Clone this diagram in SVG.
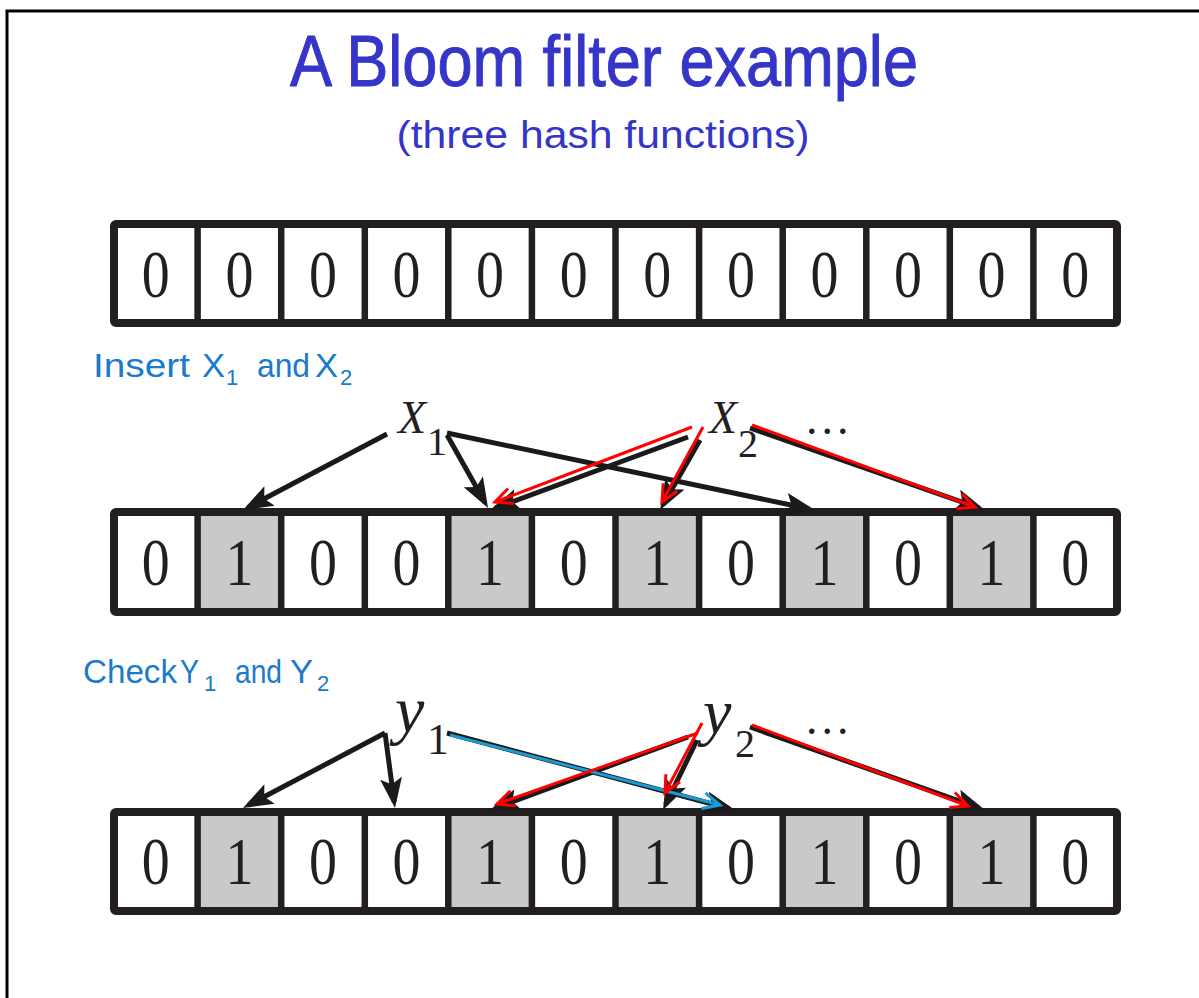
<svg xmlns="http://www.w3.org/2000/svg" width="1199" height="998" viewBox="0 0 1199 998">
<style>
.title{font-family:"Liberation Sans",Arial,sans-serif;fill:#3535c8}
.lbl{font-family:"Liberation Sans",Arial,sans-serif;fill:#1a7acc;font-size:34px}
.sub{font-family:"Liberation Sans",Arial,sans-serif;fill:#1a7acc;font-size:22px}
.dig{font-family:"Liberation Serif","Times New Roman",serif;font-size:68px;fill:#231f20;text-anchor:middle}
.math{font-family:"Liberation Serif","Times New Roman",serif;fill:#231f20}
.w{fill:#ffffff}
.g{fill:#c8c9cb}
.frame{fill:none;stroke:#231f20;stroke-width:8;stroke-linejoin:round}
.div{stroke:#231f20;stroke-width:6.5}
.bk{stroke:#1a1a1a;stroke-width:5;fill:none;marker-end:url(#hk)}
.rd{stroke:#ff0000;stroke-width:3;fill:none;marker-end:url(#hr)}
.bl{stroke:#1c9ad6;stroke-width:3;fill:none;marker-end:url(#hb)}
</style>
<defs>
<marker id="hk" markerUnits="userSpaceOnUse" markerWidth="32" markerHeight="24" viewBox="0 0 32 24" refX="24" refY="12" orient="auto" overflow="visible"><path d="M0,1 L30,12 L0,23 L6,12 z" fill="#1a1a1a"/></marker>
<marker id="hr" markerUnits="userSpaceOnUse" markerWidth="24" markerHeight="24" viewBox="0 0 24 24" refX="19" refY="12" orient="auto" overflow="visible"><path d="M2,4 L19,12 L2,20" fill="none" stroke="#ff0000" stroke-width="3"/></marker>
<marker id="hb" markerUnits="userSpaceOnUse" markerWidth="24" markerHeight="24" viewBox="0 0 24 24" refX="19" refY="12" orient="auto" overflow="visible"><path d="M2,4 L19,12 L2,20" fill="none" stroke="#1c9ad6" stroke-width="3"/></marker>
</defs>
<rect x="0" y="0" width="1199" height="998" fill="#ffffff"/>
<path d="M7,998 V11 H1199" fill="none" stroke="#000" stroke-width="3"/>

<g id="title">
<text class="title" x="604" y="86" font-size="72" text-anchor="middle" textLength="628" lengthAdjust="spacingAndGlyphs" stroke="#3535c8" stroke-width="1">A Bloom filter example</text>
<text class="title" x="603" y="148" font-size="38" text-anchor="middle" textLength="413" lengthAdjust="spacingAndGlyphs">(three hash functions)</text>
</g>

<!-- Row 1 -->
<g id="row1">
<g id="r1c0"><rect class="w" x="114" y="224" width="83.6" height="99"/><text class="dig" x="155.8" y="297" textLength="28" lengthAdjust="spacingAndGlyphs">0</text></g>
<g id="r1c1"><rect class="w" x="197.6" y="224" width="83.6" height="99"/><text class="dig" x="239.4" y="297" textLength="28" lengthAdjust="spacingAndGlyphs">0</text></g>
<g id="r1c2"><rect class="w" x="281.2" y="224" width="83.6" height="99"/><text class="dig" x="323" y="297" textLength="28" lengthAdjust="spacingAndGlyphs">0</text></g>
<g id="r1c3"><rect class="w" x="364.8" y="224" width="83.6" height="99"/><text class="dig" x="406.5" y="297" textLength="28" lengthAdjust="spacingAndGlyphs">0</text></g>
<g id="r1c4"><rect class="w" x="448.3" y="224" width="83.6" height="99"/><text class="dig" x="490.1" y="297" textLength="28" lengthAdjust="spacingAndGlyphs">0</text></g>
<g id="r1c5"><rect class="w" x="531.9" y="224" width="83.6" height="99"/><text class="dig" x="573.7" y="297" textLength="28" lengthAdjust="spacingAndGlyphs">0</text></g>
<g id="r1c6"><rect class="w" x="615.5" y="224" width="83.6" height="99"/><text class="dig" x="657.3" y="297" textLength="28" lengthAdjust="spacingAndGlyphs">0</text></g>
<g id="r1c7"><rect class="w" x="699.1" y="224" width="83.6" height="99"/><text class="dig" x="740.9" y="297" textLength="28" lengthAdjust="spacingAndGlyphs">0</text></g>
<g id="r1c8"><rect class="w" x="782.7" y="224" width="83.6" height="99"/><text class="dig" x="824.5" y="297" textLength="28" lengthAdjust="spacingAndGlyphs">0</text></g>
<g id="r1c9"><rect class="w" x="866.3" y="224" width="83.6" height="99"/><text class="dig" x="908" y="297" textLength="28" lengthAdjust="spacingAndGlyphs">0</text></g>
<g id="r1c10"><rect class="w" x="949.8" y="224" width="83.6" height="99"/><text class="dig" x="991.6" y="297" textLength="28" lengthAdjust="spacingAndGlyphs">0</text></g>
<g id="r1c11"><rect class="w" x="1033.4" y="224" width="83.6" height="99"/><text class="dig" x="1075.2" y="297" textLength="28" lengthAdjust="spacingAndGlyphs">0</text></g>
<rect class="frame" x="114" y="224" width="1003" height="99" rx="2"/>
<path class="div" d="M197.6,224V323M281.2,224V323M364.8,224V323M448.3,224V323M531.9,224V323M615.5,224V323M699.1,224V323M782.7,224V323M866.3,224V323M949.8,224V323M1033.4,224V323"/>
</g>

<g id="insertLabel">
<text class="lbl" x="93" y="377" textLength="97" lengthAdjust="spacingAndGlyphs">Insert</text>
<text class="lbl" x="202" y="377" textLength="23" lengthAdjust="spacingAndGlyphs">X</text>
<text class="sub" x="226" y="385">1</text>
<text class="lbl" x="257" y="377" textLength="53" lengthAdjust="spacingAndGlyphs">and</text>
<text class="lbl" x="315" y="377" textLength="23" lengthAdjust="spacingAndGlyphs">X</text>
<text class="sub" x="340" y="385">2</text>
</g>

<!-- Row 2 -->
<g id="row2">
<g id="r2c0"><rect class="w" x="114" y="512" width="83.6" height="100"/><text class="dig" x="155.8" y="585" textLength="28" lengthAdjust="spacingAndGlyphs">0</text></g>
<g id="r2c1"><rect class="g" x="197.6" y="512" width="83.6" height="100"/><text class="dig" x="239.4" y="585" textLength="28" lengthAdjust="spacingAndGlyphs">1</text></g>
<g id="r2c2"><rect class="w" x="281.2" y="512" width="83.6" height="100"/><text class="dig" x="323" y="585" textLength="28" lengthAdjust="spacingAndGlyphs">0</text></g>
<g id="r2c3"><rect class="w" x="364.8" y="512" width="83.6" height="100"/><text class="dig" x="406.5" y="585" textLength="28" lengthAdjust="spacingAndGlyphs">0</text></g>
<g id="r2c4"><rect class="g" x="448.3" y="512" width="83.6" height="100"/><text class="dig" x="490.1" y="585" textLength="28" lengthAdjust="spacingAndGlyphs">1</text></g>
<g id="r2c5"><rect class="w" x="531.9" y="512" width="83.6" height="100"/><text class="dig" x="573.7" y="585" textLength="28" lengthAdjust="spacingAndGlyphs">0</text></g>
<g id="r2c6"><rect class="g" x="615.5" y="512" width="83.6" height="100"/><text class="dig" x="657.3" y="585" textLength="28" lengthAdjust="spacingAndGlyphs">1</text></g>
<g id="r2c7"><rect class="w" x="699.1" y="512" width="83.6" height="100"/><text class="dig" x="740.9" y="585" textLength="28" lengthAdjust="spacingAndGlyphs">0</text></g>
<g id="r2c8"><rect class="g" x="782.7" y="512" width="83.6" height="100"/><text class="dig" x="824.5" y="585" textLength="28" lengthAdjust="spacingAndGlyphs">1</text></g>
<g id="r2c9"><rect class="w" x="866.3" y="512" width="83.6" height="100"/><text class="dig" x="908" y="585" textLength="28" lengthAdjust="spacingAndGlyphs">0</text></g>
<g id="r2c10"><rect class="g" x="949.8" y="512" width="83.6" height="100"/><text class="dig" x="991.6" y="585" textLength="28" lengthAdjust="spacingAndGlyphs">1</text></g>
<g id="r2c11"><rect class="w" x="1033.4" y="512" width="83.6" height="100"/><text class="dig" x="1075.2" y="585" textLength="28" lengthAdjust="spacingAndGlyphs">0</text></g>
<rect class="frame" x="114" y="512" width="1003" height="100" rx="2"/>
<path class="div" d="M197.6,512V612M281.2,512V612M364.8,512V612M448.3,512V612M531.9,512V612M615.5,512V612M699.1,512V612M782.7,512V612M866.3,512V612M949.8,512V612M1033.4,512V612"/>
</g>

<g id="checkLabel">
<text class="lbl" x="83" y="683" textLength="94" lengthAdjust="spacingAndGlyphs">Check</text>
<text class="lbl" x="180" y="683" textLength="19" lengthAdjust="spacingAndGlyphs">Y</text>
<text class="sub" x="204" y="691">1</text>
<text class="lbl" x="235" y="683" textLength="47" lengthAdjust="spacingAndGlyphs">and</text>
<text class="lbl" x="290" y="683" textLength="23" lengthAdjust="spacingAndGlyphs">Y</text>
<text class="sub" x="317" y="691">2</text>
</g>

<!-- Row 3 -->
<g id="row3">
<g id="r3c0"><rect class="w" x="114" y="812" width="83.6" height="99"/><text class="dig" x="155.8" y="884" textLength="28" lengthAdjust="spacingAndGlyphs">0</text></g>
<g id="r3c1"><rect class="g" x="197.6" y="812" width="83.6" height="99"/><text class="dig" x="239.4" y="884" textLength="28" lengthAdjust="spacingAndGlyphs">1</text></g>
<g id="r3c2"><rect class="w" x="281.2" y="812" width="83.6" height="99"/><text class="dig" x="323" y="884" textLength="28" lengthAdjust="spacingAndGlyphs">0</text></g>
<g id="r3c3"><rect class="w" x="364.8" y="812" width="83.6" height="99"/><text class="dig" x="406.5" y="884" textLength="28" lengthAdjust="spacingAndGlyphs">0</text></g>
<g id="r3c4"><rect class="g" x="448.3" y="812" width="83.6" height="99"/><text class="dig" x="490.1" y="884" textLength="28" lengthAdjust="spacingAndGlyphs">1</text></g>
<g id="r3c5"><rect class="w" x="531.9" y="812" width="83.6" height="99"/><text class="dig" x="573.7" y="884" textLength="28" lengthAdjust="spacingAndGlyphs">0</text></g>
<g id="r3c6"><rect class="g" x="615.5" y="812" width="83.6" height="99"/><text class="dig" x="657.3" y="884" textLength="28" lengthAdjust="spacingAndGlyphs">1</text></g>
<g id="r3c7"><rect class="w" x="699.1" y="812" width="83.6" height="99"/><text class="dig" x="740.9" y="884" textLength="28" lengthAdjust="spacingAndGlyphs">0</text></g>
<g id="r3c8"><rect class="g" x="782.7" y="812" width="83.6" height="99"/><text class="dig" x="824.5" y="884" textLength="28" lengthAdjust="spacingAndGlyphs">1</text></g>
<g id="r3c9"><rect class="w" x="866.3" y="812" width="83.6" height="99"/><text class="dig" x="908" y="884" textLength="28" lengthAdjust="spacingAndGlyphs">0</text></g>
<g id="r3c10"><rect class="g" x="949.8" y="812" width="83.6" height="99"/><text class="dig" x="991.6" y="884" textLength="28" lengthAdjust="spacingAndGlyphs">1</text></g>
<g id="r3c11"><rect class="w" x="1033.4" y="812" width="83.6" height="99"/><text class="dig" x="1075.2" y="884" textLength="28" lengthAdjust="spacingAndGlyphs">0</text></g>
<rect class="frame" x="114" y="812" width="1003" height="99" rx="2"/>
<path class="div" d="M197.6,812V911M281.2,812V911M364.8,812V911M448.3,812V911M531.9,812V911M615.5,812V911M699.1,812V911M782.7,812V911M866.3,812V911M949.8,812V911M1033.4,812V911"/>
</g>

<!-- element labels -->
<g id="x1"><text class="math" y="433"><tspan x="398" font-size="46" font-style="italic">X</tspan><tspan x="427" y="455" font-size="40">1</tspan></text></g>
<g id="x2"><text class="math" y="433"><tspan x="709" font-size="46" font-style="italic">X</tspan><tspan x="738" y="457" font-size="40">2</tspan></text></g>
<g id="dots1"><text class="math" x="806" y="434" font-size="46" letter-spacing="4">...</text></g>
<g id="y1"><text class="math" y="732"><tspan x="395" font-size="66" font-style="italic">y</tspan><tspan x="427" y="754" font-size="44">1</tspan></text></g>
<g id="y2"><text class="math" y="733"><tspan x="703" font-size="64" font-style="italic">y</tspan><tspan x="735" y="757" font-size="40">2</tspan></text></g>
<g id="dots2"><text class="math" x="806" y="734" font-size="46" letter-spacing="4">...</text></g>

<!-- connectors -->
<g id="connectors">
<path class="bk" d="M387,434 L248.3,507.2"/>
<path class="bk" d="M447,435 L485.1,502.8"/>
<path class="bk" d="M447,433 L809.1,508.8"/>
<path class="bk" d="M688,437 L495.6,507.9"/>
<path class="bk" d="M700,440 L663,504.8"/>
<path class="bk" d="M750,428 L979.3,508"/>
<path class="rd" d="M692,427 L495,502"/>
<path class="rd" d="M703,427 L662,502"/>
<path class="rd" d="M752,425 L975,507"/>

<path class="bk" d="M385,733 L248.3,805.2"/>
<path class="bk" d="M385,733 L394.2,802"/>
<path class="bk" d="M447,733 L729.2,808.5"/>
<path class="bk" d="M688,737 L495.6,807.9"/>
<path class="bk" d="M697,740 L665.6,804.6"/>
<path class="bk" d="M750,727 L979.3,808"/>
<path class="bl" d="M450,735 L720,805"/>
<path class="rd" d="M698,733 L497,804"/>
<path class="rd" d="M702,723 L665,793"/>
<path class="rd" d="M752,725 L968,806"/>
</g>
</svg>
